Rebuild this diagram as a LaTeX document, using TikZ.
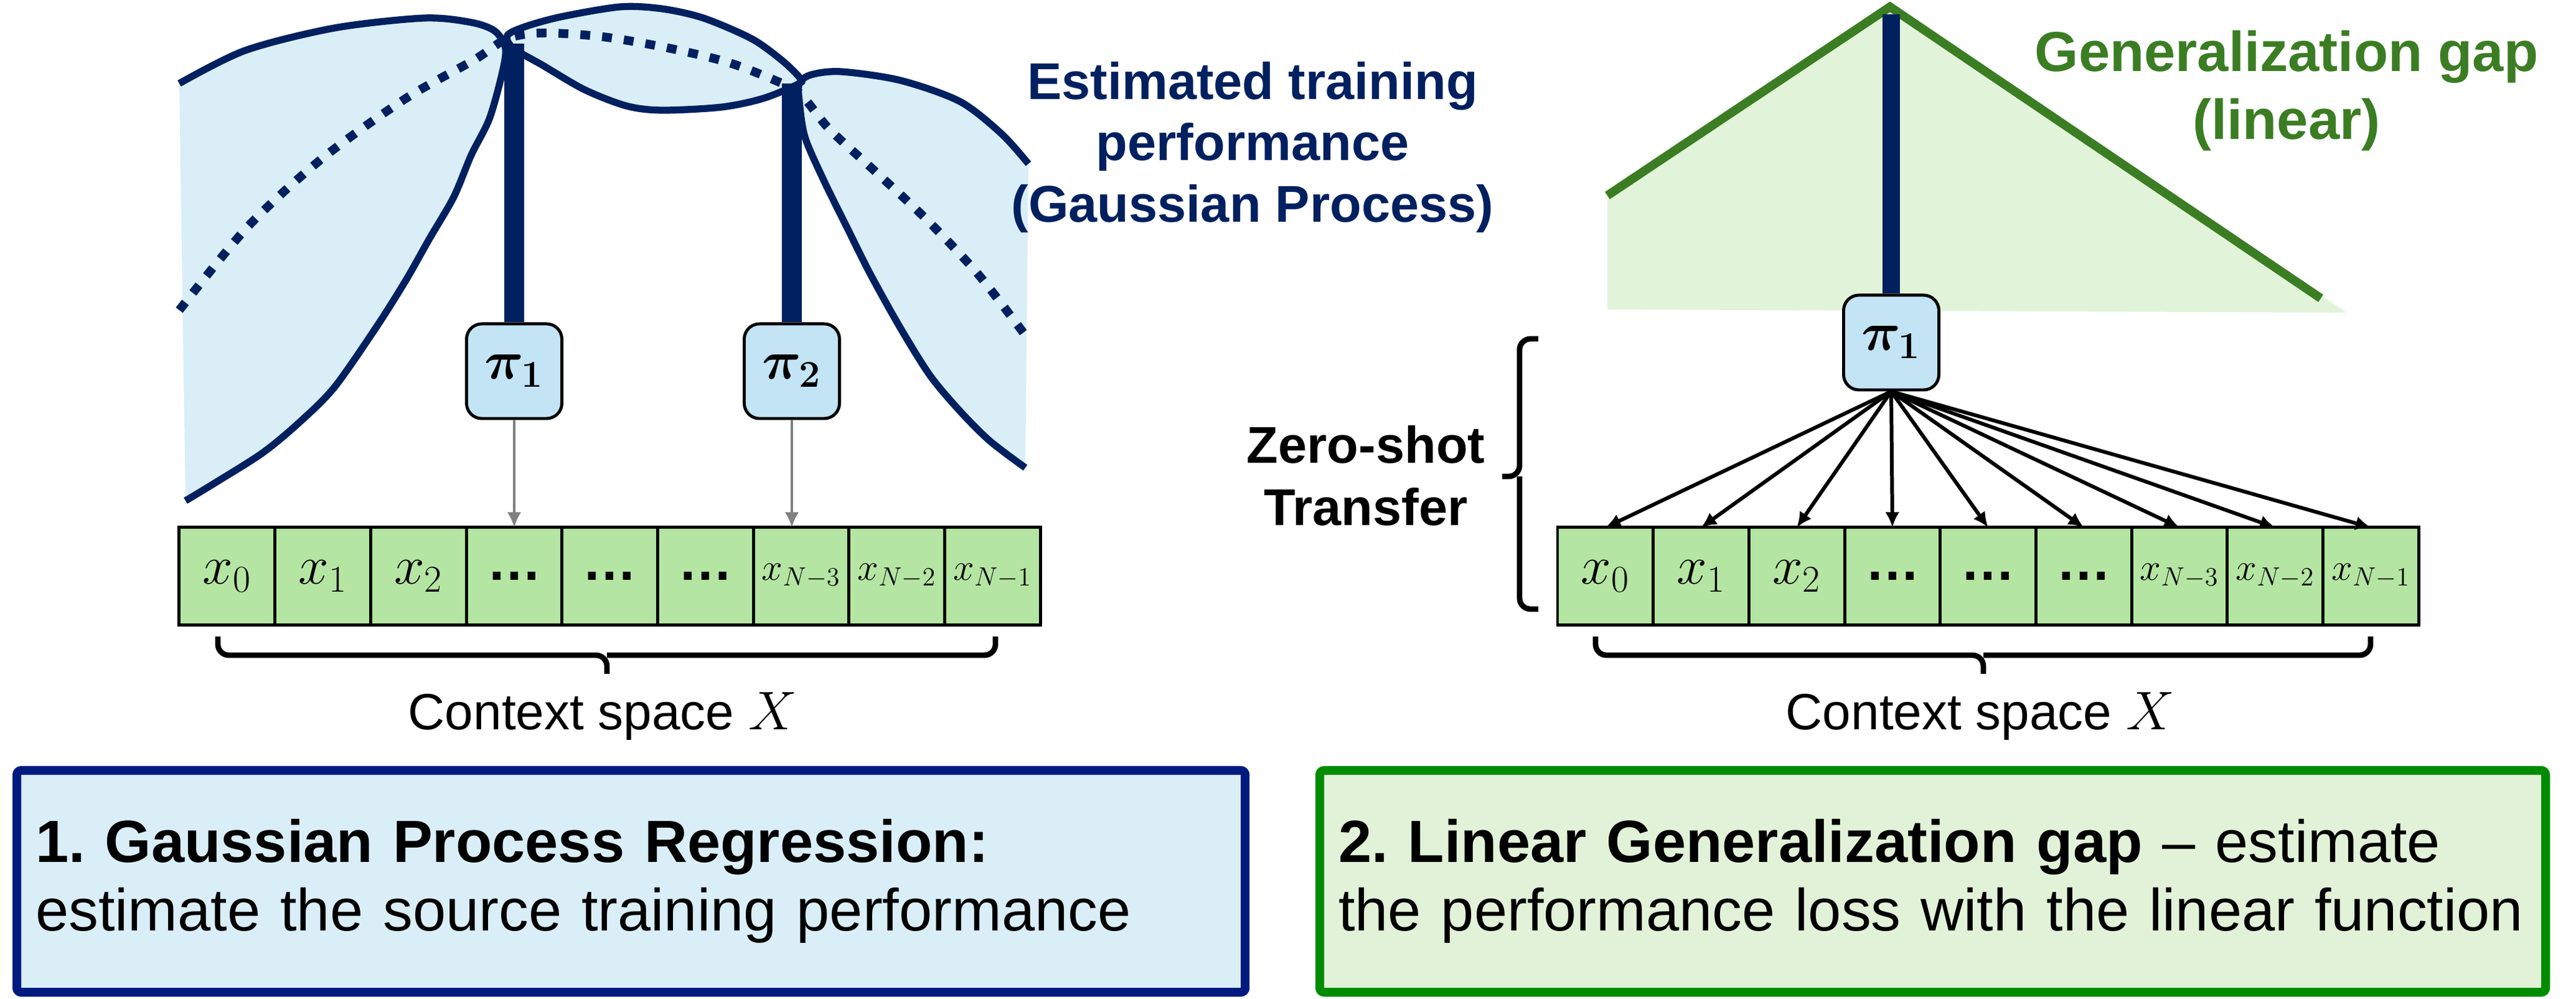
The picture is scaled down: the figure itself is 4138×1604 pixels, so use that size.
\documentclass[tikz,border=0pt]{standalone}
\usepackage{fontspec}
\setmainfont{Liberation Sans}
\usepackage{bm}
\usepackage{tikz}
\usetikzlibrary{arrows.meta}
\usetikzlibrary{calc}
\definecolor{gpnavy}{HTML}{002060}
\definecolor{gplight}{HTML}{DAEEF8}
\definecolor{pifill}{HTML}{C2E4F5}
\definecolor{cellgreen}{HTML}{B5E5A2}
\definecolor{gengreen}{HTML}{3B7D23}
\definecolor{genlight}{HTML}{E1F4D9}
\definecolor{boxnavy}{HTML}{001B80}
\definecolor{boxgreen}{HTML}{008C00}
\definecolor{boxlight}{HTML}{E2F2D8}
\frenchspacing

\newcommand{\smallx}[1]{{\fontsize{18}{18}\selectfont$x_{#1}$}}
\newcommand{\celldots}{{\bfseries …}}
\newcommand{\celltext}[1]{\ifcase#1\or$x_0$\or$x_1$\or$x_2$\or\celldots\or\celldots\or\celldots\or\smallx{N-3}\or\smallx{N-2}\or\smallx{N-1}\fi}
\newcommand{\leftlobe}{plot[smooth,tension=.5] coordinates {(288,134) (394,81) (537,45) (681,29) (757,36) (795,50) (812,78) (806,120) (786,191) (757,249) (729,316) (690,383) (652,450) (604,526) (537,622) (480,679) (422,727) (346,775) (298,804)}}
\newcommand{\rightlobe}{plot[smooth,tension=.5] coordinates {(1652,263) (1609,215) (1542,163) (1446,129) (1351,115) (1303,120) (1284,134) (1284,163) (1293,220) (1322,287) (1360,364) (1398,440) (1446,526) (1494,603) (1542,660) (1590,708) (1647,751)}}

\begin{document}
\begin{tikzpicture}[x=0.01cm,y=-0.01cm,>={Latex[length=7pt,width=6.5pt]},
  pi node/.style={rectangle,rounded corners=7pt,draw=black,line width=1.4pt,fill=pifill,minimum width=1.53cm,minimum height=1.52cm,font=\fontsize{26}{26}\selectfont},
  cell node/.style={rectangle,draw=black,line width=1.4pt,fill=cellgreen,minimum width=1.537cm,minimum height=1.56cm,inner sep=0pt,outer sep=0pt,font=\fontsize{25}{25}\selectfont},
  band line/.style={draw=gpnavy,line width=3.2pt},
  mean line/.style={draw=gpnavy,line width=4pt,dash pattern=on 4.5pt off 5.5pt},
  policy line/.style={draw=gpnavy,line width=9pt},
  gray arrow/.style={->,draw=black!50,line width=1.4pt},
  fan arrow/.style={->,draw=black,line width=1.7pt},
  brace line/.style={draw=black,line width=2.5pt,rounded corners=5pt},
  result box/.style={rectangle,rounded corners=2pt,line width=4pt,inner xsep=0.3cm,align=left,anchor=north west,minimum height=3.56cm,font=\fontsize{27.2}{31.3}\selectfont}]

\useasboundingbox (0,0) rectangle (4138,1604);

% Gaussian process band
\fill[gplight] \leftlobe -- cycle;
\fill[gplight] \rightlobe -- cycle;
\filldraw[band line,fill=gplight] plot[smooth cycle,tension=.5] coordinates {(815,57) (843,43) (901,27) (996,11) (1063,14) (1130,29) (1207,62) (1255,96) (1284,124) (1284,134) (1226,158) (1159,172) (1063,177) (1006,170) (939,144) (872,105) (824,77)};
\draw[band line] \leftlobe;
\draw[band line] \rightlobe;
\draw[mean line] plot[smooth,tension=.5] coordinates {(288,498) (398,364) (518,254) (652,158) (762,96) (815,62) (872,53) (968,59) (1073,77) (1169,100) (1245,129) (1285,150) (1331,206) (1398,268) (1485,349) (1571,440) (1652,545)};

% linear gap
\coordinate (apex) at (3036,11);
\fill[genlight] (2582,314) -- (apex) -- (3770,502) -- (2582,497) -- cycle;
\draw[gengreen,line width=4pt,line join=miter] (2582,314) -- (apex) -- (3728,479);

\coordinate (top1) at (826,70);
\coordinate (top2) at (1272,134);
\coordinate (top3) at (3038,23);

\node[pi node] (p1) at (826,596) {$\bm{\pi_1}$};
\node[pi node] (p2) at (1272,596) {$\bm{\pi_2}$};
\node[pi node] (p3) at (3038,550) {$\bm{\pi_1}$};

\draw[policy line] (p1.north) -- (top1);
\draw[policy line] (p2.north) -- (top2);
\draw[policy line,line width=8pt] (p3.north) -- (top3);

\foreach \k in {1,...,9}{
  \pgfmathsetmacro{\lx}{288+(\k-0.5)*153.7}
  \pgfmathsetmacro{\rx}{2502+(\k-0.5)*153.7}
  \node[cell node] (l\k) at (\lx,925) {\celltext{\k}};
  \node[cell node] (r\k) at (\rx,925) {\celltext{\k}};
}

\draw[gray arrow] (p1.south) -- (p1.south |- l4.north);
\draw[gray arrow] (p2.south) -- (p2.south |- l7.north);
\foreach \k in {1,...,9}
  \draw[fan arrow] (p3.south) -- (r\k.north);

% braces
\draw[brace line] (350,1022) |- (975,1052) -- (975,1082);
\draw[brace line] (1599,1022) |- (975,1052);
\draw[brace line] (2563,1022) |- (3186,1052) -- (3186,1082);
\draw[brace line] (3808,1022) |- (3186,1052);
\draw[brace line] (2471,544) -| (2441,765) -- (2413,765);
\draw[brace line] (2471,978) -| (2441,765);

% labels
\node[anchor=north,align=center,inner sep=0pt,text=gpnavy,font=\bfseries\fontsize{23.6}{27.9}\selectfont] (gpLabel) at (2012,99) {Estimated training\\performance\\(Gaussian Process)};
\node[anchor=north,align=center,inner sep=0pt,text=gengreen,font=\bfseries\fontsize{25.7}{31}\selectfont] (genLabel) at (3673,48) {Generalization gap\\(linear)};
\node[anchor=north,align=center,inner sep=0pt,font=\bfseries\fontsize{23.6}{28.2}\selectfont] (zeroLabel) at (2194,683) {Zero-shot\\Transfer};
\node[anchor=base,inner sep=0pt,font=\fontsize{23.3}{28}\selectfont] (ctxL) at (968,1172) {Context space $X$};
\node[anchor=base,inner sep=0pt,font=\fontsize{23.3}{28}\selectfont] (ctxR) at (3181,1172) {Context space $X$};

\node[result box,draw=boxnavy,fill=gplight,minimum width=19.72cm,text width=19.12cm] (gpBox) at (20,1230) {\textbf{1. Gaussian Process Regression:}\\estimate the source training performance};
\node[result box,draw=boxgreen,fill=boxlight,minimum width=19.68cm,text width=19.08cm] (genBox) at (2113,1230) {\textbf{2. Linear Generalization gap} – estimate\\the performance loss with the linear function};

\end{tikzpicture}
\end{document}
